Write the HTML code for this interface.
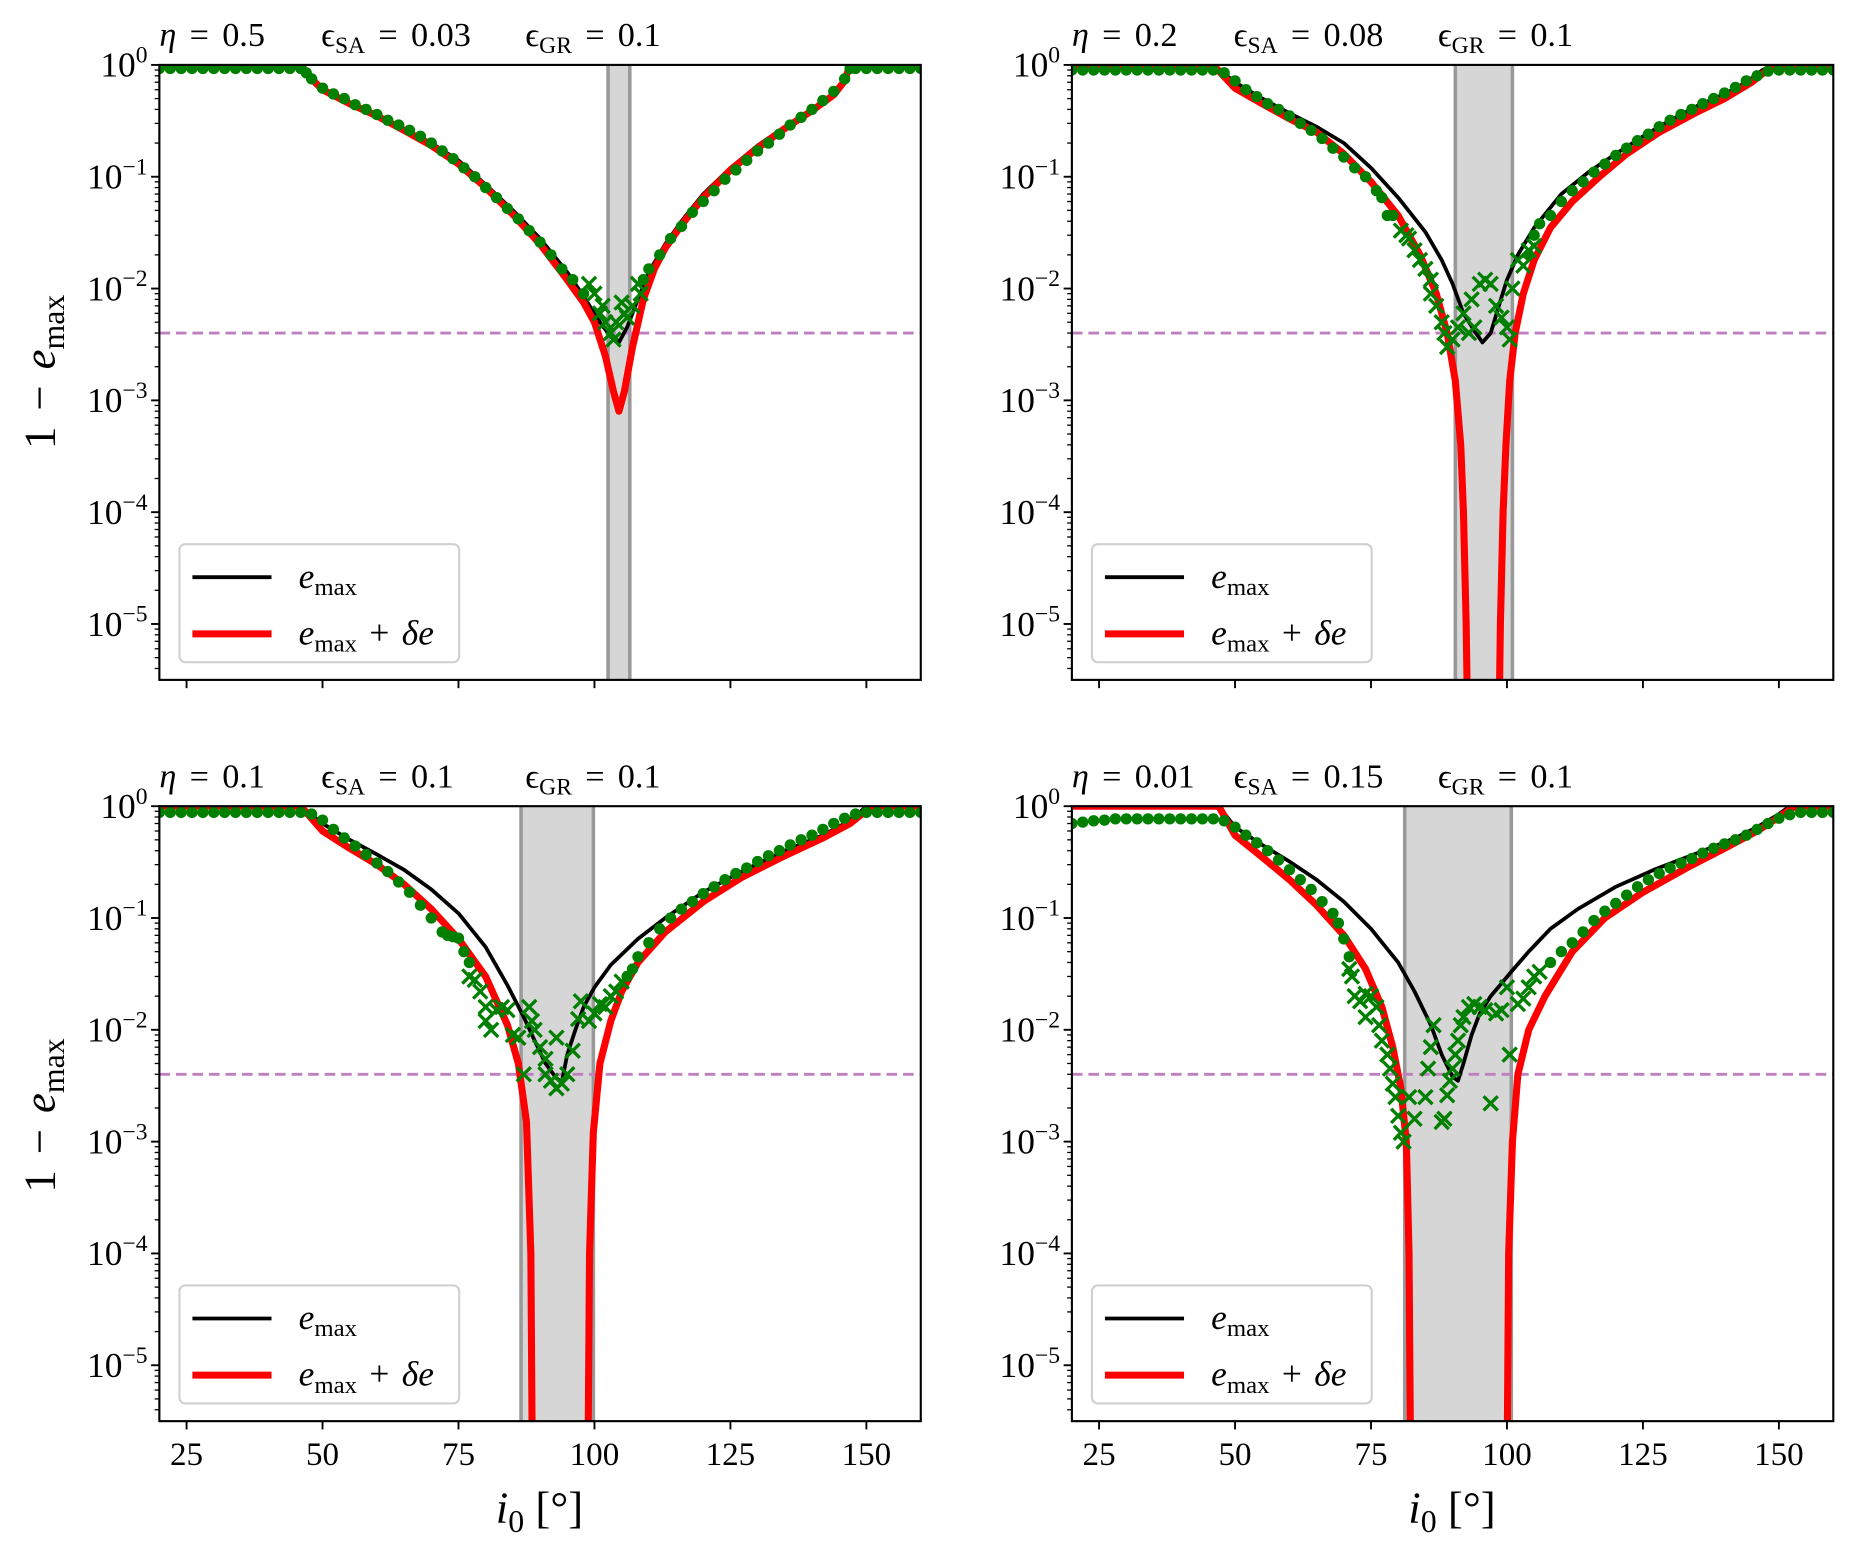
<!DOCTYPE html>
<html><head><meta charset="utf-8">
<style>
html,body{margin:0;padding:0;background:#fff;}
svg{display:block;}
text{font-family:"Liberation Serif","DejaVu Serif",serif;fill:#000;}
</style></head>
<body>
<svg id="fig" xmlns="http://www.w3.org/2000/svg" width="1851" height="1551" viewBox="0 0 1568 1314" preserveAspectRatio="none"></svg>
<script>
// ===== data (x = i0 in degrees, y = 1 - e_max) =====
const xTicks = [25, 50, 75, 100, 125, 150];
const yDecades = [0, -1, -2, -3, -4, -5];
const thresholdValue = 0.004;

const titlesEta = ["0.5", "0.2", "0.1", "0.01"];
const titlesSA = ["0.03", "0.08", "0.1", "0.15"];
const titlesGR = ["0.1", "0.1", "0.1", "0.1"];

const bands = [[102.5, 106.5], [90.5, 101], [86.5, 99.8], [81.2, 100.8]];

const blackA = [[20,1],[46,1],[48,0.75],[50,0.6],[55,0.45],[60,0.35],[65,0.27],[70,0.2],[75,0.14],[80,0.085],[85,0.05],[90,0.028],[95,0.014],[98,0.0085],[101,0.005],[103,0.0037],[104.5,0.0033],[106,0.0045],[108,0.008],[110,0.014],[113,0.025],[116,0.04],[120,0.07],[125,0.12],[130,0.19],[135,0.28],[140,0.4],[144,0.55],[146,0.75],[147,1],[160,1]];
const redA = [[20,1],[46,1],[48,0.75],[50,0.6],[55,0.45],[60,0.35],[65,0.26],[70,0.19],[75,0.13],[80,0.08],[85,0.046],[90,0.025],[95,0.012],[98,0.0075],[100,0.005],[102,0.0025],[103.5,0.0012],[104.5,0.0008],[105.5,0.0012],[107,0.003],[109,0.008],[111,0.015],[113,0.023],[116,0.037],[120,0.065],[125,0.115],[130,0.18],[135,0.27],[140,0.39],[144,0.54],[146,0.72],[147,1],[160,1]];
const dotsA = [[20,0.93],[22,0.93],[24,0.93],[26,0.93],[28,0.93],[30,0.93],[32,0.93],[34,0.93],[36,0.93],[38,0.93],[40,0.93],[42,0.93],[44,0.93],[46,0.93],[47,0.85],[48,0.75],[50,0.62],[52,0.55],[54,0.5],[56,0.44],[58,0.4],[60,0.36],[62,0.32],[64,0.29],[66,0.26],[68,0.23],[70,0.2],[72,0.17],[74,0.145],[76,0.12],[78,0.1],[80,0.08],[82,0.065],[84,0.052],[86,0.042],[88,0.033],[90,0.026],[92,0.02],[94,0.015],[96,0.012],[98,0.009],[109,0.012],[110,0.015],[112,0.02],[114,0.028],[116,0.036],[118,0.048],[120,0.06],[122,0.075],[124,0.095],[126,0.115],[128,0.14],[130,0.17],[132,0.2],[134,0.24],[136,0.29],[138,0.34],[140,0.4],[142,0.48],[144,0.58],[146,0.75],[147,0.93],[148,0.93],[150,0.93],[152,0.93],[154,0.93],[156,0.93],[158,0.93],[160,0.93]];
const crossA = [[99,0.011],[100,0.009],[101,0.006],[101.5,0.007],[102,0.005],[103,0.004],[103.5,0.0035],[104,0.005],[105,0.0075],[105.5,0.006],[106,0.0055],[107,0.007],[108,0.011],[108.5,0.009]];

const blackB = [[20,1],[46,1],[50,0.7],[55,0.5],[60,0.37],[65,0.28],[70,0.2],[75,0.12],[80,0.065],[85,0.032],[88,0.018],[90,0.011],[92,0.006],[94,0.0042],[95.5,0.0033],[97,0.004],[98.5,0.007],[100,0.012],[102,0.02],[105,0.035],[110,0.07],[115,0.11],[120,0.16],[125,0.23],[130,0.32],[135,0.43],[140,0.55],[144,0.7],[147,0.9],[149,1],[160,1]];
const redB = [[20,1],[46,1],[50,0.62],[55,0.45],[60,0.33],[65,0.25],[70,0.16],[75,0.09],[80,0.045],[84,0.02],[87,0.009],[89,0.004],[90.5,0.0015],[91.5,0.0004],[92,0.0001],[92.5,0.00001],[92.8,0.000001],[98.5,0.000001],[98.8,0.00001],[99.3,0.0001],[99.8,0.0004],[100.5,0.0015],[101.5,0.004],[103,0.009],[105,0.018],[108,0.035],[112,0.06],[117,0.1],[122,0.16],[128,0.25],[135,0.38],[140,0.5],[145,0.7],[149,1],[160,1]];
const dotsB = [[20,0.9],[22,0.9],[24,0.9],[26,0.9],[28,0.9],[30,0.9],[32,0.9],[34,0.9],[36,0.9],[38,0.9],[40,0.9],[42,0.9],[44,0.9],[46,0.9],[48,0.85],[50,0.72],[52,0.6],[54,0.52],[56,0.45],[58,0.4],[60,0.35],[62,0.3],[64,0.26],[66,0.22],[68,0.18],[70,0.15],[72,0.12],[74,0.1],[76,0.075],[77,0.065],[78,0.045],[79,0.045],[104,0.02],[105,0.03],[106,0.038],[108,0.045],[110,0.06],[112,0.075],[114,0.09],[116,0.11],[118,0.13],[120,0.155],[122,0.18],[124,0.21],[126,0.24],[128,0.28],[130,0.32],[132,0.36],[134,0.4],[136,0.45],[138,0.5],[140,0.56],[142,0.63],[144,0.72],[146,0.8],[148,0.88],[150,0.9],[152,0.9],[154,0.9],[156,0.9],[158,0.9],[160,0.9]];
const crossB = [[80.5,0.033],[81.5,0.03],[82,0.028],[83,0.022],[84,0.018],[85,0.015],[86,0.012],[86,0.009],[87,0.007],[88,0.005],[88.5,0.004],[89,0.003],[90,0.0035],[91,0.0045],[92,0.006],[93,0.004],[93.5,0.008],[94,0.0045],[95,0.011],[96,0.012],[97,0.011],[98,0.007],[99,0.0055],[100,0.0045],[100.5,0.0035],[101,0.01],[102,0.018],[103,0.016],[104,0.022],[105,0.024]];

const blackC = [[20,1],[46,1],[50,0.7],[55,0.5],[60,0.37],[65,0.27],[70,0.18],[75,0.11],[80,0.055],[84,0.025],[87,0.013],[89,0.008],[91,0.005],[93,0.0037],[94,0.0034],[95,0.006],[96.5,0.01],[98,0.016],[100,0.024],[103,0.038],[108,0.065],[113,0.1],[120,0.17],[127,0.26],[135,0.4],[142,0.55],[146,0.7],[149,0.9],[150,1],[160,1]];
const redC = [[20,1],[46,1],[50,0.6],[55,0.42],[60,0.3],[65,0.2],[70,0.12],[75,0.065],[80,0.03],[84,0.011],[86,0.005],[87.5,0.0015],[88.3,0.0001],[88.6,0.000001],[98.8,0.000001],[99.1,0.0001],[99.8,0.0012],[101,0.005],[103,0.012],[105,0.022],[108,0.04],[113,0.075],[120,0.14],[127,0.23],[135,0.36],[142,0.52],[147,0.7],[151,1],[160,1]];
const dotsC = [[20,0.88],[22,0.88],[24,0.88],[26,0.88],[28,0.88],[30,0.88],[32,0.88],[34,0.88],[36,0.88],[38,0.88],[40,0.88],[42,0.88],[44,0.88],[46,0.88],[48,0.85],[50,0.75],[52,0.62],[54,0.52],[56,0.44],[58,0.37],[60,0.31],[62,0.26],[64,0.21],[66,0.17],[68,0.13],[70,0.1],[72,0.075],[73,0.07],[74,0.068],[75,0.066],[76,0.05],[77,0.04],[106,0.03],[107,0.035],[108,0.045],[110,0.06],[112,0.08],[114,0.1],[116,0.12],[118,0.14],[120,0.165],[122,0.19],[124,0.22],[126,0.25],[128,0.28],[130,0.32],[132,0.36],[134,0.4],[136,0.45],[138,0.5],[140,0.55],[142,0.62],[144,0.7],[146,0.78],[148,0.85],[150,0.88],[152,0.88],[154,0.88],[156,0.88],[158,0.88],[160,0.88]];
const crossC = [[77,0.03],[78,0.028],[79,0.022],[80,0.016],[80,0.012],[81,0.01],[82,0.015],[83,0.016],[84,0.015],[85,0.009],[86,0.0085],[87,0.004],[88,0.016],[88.5,0.012],[89,0.01],[90,0.007],[91,0.004],[91,0.0055],[92,0.0035],[93,0.003],[93,0.0085],[94,0.0033],[95,0.004],[96,0.0065],[97,0.0125],[97.5,0.018],[99,0.012],[100,0.014],[101,0.017],[102,0.016],[103,0.02],[104,0.022],[105,0.027]];

const blackD = [[20,1],[47,1],[50,0.65],[55,0.45],[60,0.32],[65,0.22],[70,0.14],[75,0.08],[80,0.04],[83,0.022],[86,0.011],[88,0.006],[90,0.0038],[91,0.0035],[92,0.005],[93.5,0.009],[95,0.014],[97,0.02],[99,0.026],[101,0.034],[104,0.05],[108,0.08],[113,0.12],[120,0.19],[127,0.27],[135,0.38],[142,0.52],[146,0.65],[150,0.85],[152,1],[160,1]];
const redD = [[20,1],[47,1],[50,0.55],[55,0.35],[60,0.22],[65,0.13],[70,0.07],[74,0.035],[77,0.016],[79,0.007],[80.5,0.003],[81.5,0.001],[82,0.0001],[82.3,0.000001],[100,0.000001],[100.3,0.0001],[101,0.001],[102,0.004],[104,0.01],[107,0.02],[112,0.05],[118,0.1],[125,0.17],[133,0.28],[140,0.42],[146,0.6],[150,0.8],[153,1],[160,1]];
const dotsD = [[20,0.7],[22,0.72],[24,0.74],[26,0.75],[28,0.77],[30,0.77],[32,0.77],[34,0.77],[36,0.77],[38,0.77],[40,0.77],[42,0.77],[44,0.77],[46,0.77],[48,0.74],[50,0.65],[52,0.55],[54,0.47],[56,0.4],[58,0.33],[60,0.27],[62,0.22],[64,0.18],[66,0.14],[68,0.11],[69,0.09],[70,0.065],[71,0.045],[108,0.04],[110,0.05],[112,0.06],[114,0.075],[116,0.095],[118,0.115],[120,0.135],[122,0.16],[124,0.19],[126,0.22],[128,0.25],[130,0.28],[132,0.31],[134,0.34],[136,0.38],[138,0.42],[140,0.46],[142,0.5],[144,0.55],[146,0.62],[148,0.7],[150,0.78],[152,0.84],[154,0.88],[156,0.88],[158,0.88],[160,0.88]];
const crossD = [[71,0.035],[71.5,0.03],[72,0.02],[73,0.018],[74,0.021],[74,0.013],[75,0.02],[76,0.016],[76.5,0.011],[77,0.008],[78,0.006],[78.5,0.0045],[79,0.0033],[79.5,0.0025],[80,0.0017],[80.5,0.0012],[81,0.001],[82,0.0025],[83,0.0016],[85,0.0025],[85.5,0.0045],[86,0.007],[86.5,0.011],[88,0.0015],[88.5,0.0016],[89,0.0026],[89.5,0.0035],[90,0.0045],[90.5,0.006],[91,0.008],[91.5,0.011],[92,0.013],[93,0.016],[94,0.017],[95,0.016],[96,0.015],[97,0.0022],[98,0.014],[99,0.015],[100,0.024],[100.5,0.006],[102,0.017],[103,0.019],[104,0.024],[105,0.03],[106,0.033]];

const blackSeries = [blackA, blackB, blackC, blackD];
const redSeries = [redA, redB, redC, redD];
const dotSeries = [dotsA, dotsB, dotsC, dotsD];
const crossSeries = [crossA, crossB, crossC, crossD];

// ===== layout =====
const NS = "http://www.w3.org/2000/svg";
const svg = document.getElementById("fig");
const panels = [
  {x0:135, x1:780, y0:55, y1:576, xl:false},
  {x0:908, x1:1553, y0:55, y1:576, xl:false},
  {x0:135, x1:780, y0:683, y1:1204, xl:true},
  {x0:908, x1:1553, y0:683, y1:1204, xl:true}
];
const XMIN = 20, XMAX = 160, LMIN = -5.5, LMAX = 0;

function mk(tag, attrs, parent) {
  const e = document.createElementNS(NS, tag);
  for (const k in attrs) e.setAttribute(k, attrs[k]);
  (parent || svg).appendChild(e);
  return e;
}

panels.forEach((p, i) => {
  const sx = v => p.x0 + (v - XMIN) / (XMAX - XMIN) * (p.x1 - p.x0);
  const sy = v => p.y0 + (LMAX - Math.log10(v)) / (LMAX - LMIN) * (p.y1 - p.y0);
  const syl = l => p.y0 + (LMAX - l) / (LMAX - LMIN) * (p.y1 - p.y0);

  const g = mk("g", {});
  
  

  const cp = mk("clipPath", {id: "clip" + i}, g);
  mk("rect", {x: p.x0, y: p.y0, width: p.x1 - p.x0, height: p.y1 - p.y0}, cp);
  const plot = mk("g", {"clip-path": "url(#clip" + i + ")"}, g);

  const b = bands[i];
  const band = mk("rect", {x: sx(b[0]), y: p.y0, width: sx(b[1]) - sx(b[0]), height: p.y1 - p.y0, fill: "#d6d6d6"}, plot);
  
  
  b.forEach(v => {
    const l = mk("line", {x1: sx(v), x2: sx(v), y1: p.y0, y2: p.y1, stroke: "#999", "stroke-width": 3}, plot);
    
    
  });

  const th = mk("line", {x1: p.x0, x2: p.x1, y1: sy(thresholdValue), y2: sy(thresholdValue), stroke: "#bf80bf", "stroke-width": 2.5, "stroke-dasharray": "9,5"}, plot);
  
  

  const path = arr => arr.map((d, k) => (k ? "L" : "M") + sx(d[0]).toFixed(1) + "," + Math.min(sy(d[1]), p.y1 + 200).toFixed(1)).join("");
  const bl = mk("path", {d: path(blackSeries[i]), fill: "none", stroke: "#000", "stroke-width": 3.2, "stroke-linejoin": "round"}, plot);
  
  
  const rl = mk("path", {d: path(redSeries[i]), fill: "none", stroke: "#ff0000", "stroke-width": 6, "stroke-linejoin": "round"}, plot);
  
  
  dotSeries[i].forEach(d => {
    const c = mk("circle", {cx: sx(d[0]), cy: sy(d[1]), r: 4.8, fill: "#007f00"}, plot);
    
    
  });
  crossSeries[i].forEach(d => {
    const cx = sx(d[0]), cy = sy(d[1]), s = 6;
    const x = mk("path", {d: `M${cx-s},${cy-s}L${cx+s},${cy+s}M${cx-s},${cy+s}L${cx+s},${cy-s}`, stroke: "#007f00", "stroke-width": 2.8, fill: "none"}, plot);
    
    
  });

  const fr = mk("rect", {x: p.x0, y: p.y0, width: p.x1 - p.x0, height: p.y1 - p.y0, fill: "none", stroke: "#000", "stroke-width": 1.8}, g);
  
  

  yDecades.forEach(dec => {
    const y = syl(dec);
    mk("line", {x1: p.x0 - 7, x2: p.x0, y1: y, y2: y, stroke: "#000", "stroke-width": 1.6}, g);
    const t = mk("text", {x: p.x0 - 10, y: y + 10, "text-anchor": "end", "font-size": 30}, g);
    
    
    t.innerHTML = '10<tspan dy="-12" font-size="20">' + (dec === 0 ? "0" : "\u2212" + (-dec)) + '</tspan>';
  });
  for (let dec = -6; dec < 0; dec++) {
    for (let m = 2; m <= 9; m++) {
      const l = dec + Math.log10(m);
      if (l < LMIN || l > LMAX) continue;
      const y = syl(l);
      mk("line", {x1: p.x0 - 4, x2: p.x0, y1: y, y2: y, stroke: "#000", "stroke-width": 1.1}, g);
    }
  }
  xTicks.forEach(v => {
    const x = sx(v);
    mk("line", {x1: x, x2: x, y1: p.y1, y2: p.y1 + 7, stroke: "#000", "stroke-width": 1.6}, g);
    if (p.xl) {
      const t = mk("text", {x: x, y: p.y1 + 37, "text-anchor": "middle", "font-size": 28}, g);
      
      
      t.textContent = v;
    }
  });

  const ty = p.y0 - 16;
  const t1 = mk("text", {x: p.x0, y: ty, "font-size": 29, "word-spacing": 4}, g);
  
  
  t1.innerHTML = '<tspan font-style="italic">\u03b7</tspan> = ' + titlesEta[i];
  const t2 = mk("text", {x: p.x0 + 137, y: ty, "font-size": 29, "word-spacing": 4}, g);
  
  
  t2.innerHTML = '\u03f5<tspan dy="6" font-size="20">SA</tspan><tspan dy="-6"> = ' + titlesSA[i] + '</tspan>';
  const t3 = mk("text", {x: p.x0 + 310, y: ty, "font-size": 29, "word-spacing": 4}, g);
  
  
  t3.innerHTML = '\u03f5<tspan dy="6" font-size="20">GR</tspan><tspan dy="-6"> = ' + titlesGR[i] + '</tspan>';

  const lg = mk("g", {}, g);
  
  
  mk("rect", {x: p.x0 + 17, y: p.y0 + 406, width: 237, height: 100, rx: 5, fill: "#fff", "fill-opacity": 0.85, stroke: "#d0d0d0", "stroke-width": 1.8}, lg);
  mk("line", {x1: p.x0 + 28, x2: p.x0 + 95, y1: p.y0 + 434, y2: p.y0 + 434, stroke: "#000", "stroke-width": 3.2}, lg);
  mk("line", {x1: p.x0 + 28, x2: p.x0 + 95, y1: p.y0 + 482, y2: p.y0 + 482, stroke: "#ff0000", "stroke-width": 6}, lg);
  const le1 = mk("text", {x: p.x0 + 118, y: p.y0 + 443, "font-size": 30}, lg);
  
  
  le1.innerHTML = '<tspan font-style="italic">e</tspan><tspan dy="6" font-size="21">max</tspan>';
  const le2 = mk("text", {x: p.x0 + 118, y: p.y0 + 491, "font-size": 30, "word-spacing": 3}, lg);
  
  
  le2.innerHTML = '<tspan font-style="italic">e</tspan><tspan dy="6" font-size="21">max</tspan><tspan dy="-6"> + </tspan><tspan font-style="italic">\u03b4e</tspan>';
});

[315, 945].forEach(cy => {
  const t = mk("text", {x: 0, y: 0, "font-size": 38, "text-anchor": "middle", "word-spacing": 4, transform: `translate(46,${cy}) rotate(-90)`});
  
  
  t.innerHTML = '1 \u2212 <tspan font-style="italic">e</tspan><tspan dy="8" font-size="27">max</tspan>';
});
[457, 1230].forEach(cx => {
  const t = mk("text", {x: cx, y: 1290, "font-size": 38, "text-anchor": "middle"});
  
  
  t.innerHTML = '<tspan font-style="italic">i</tspan><tspan dy="8" font-size="27">0</tspan><tspan dy="-8"> [\u00b0]</tspan>';
});
</script>
</body></html>
